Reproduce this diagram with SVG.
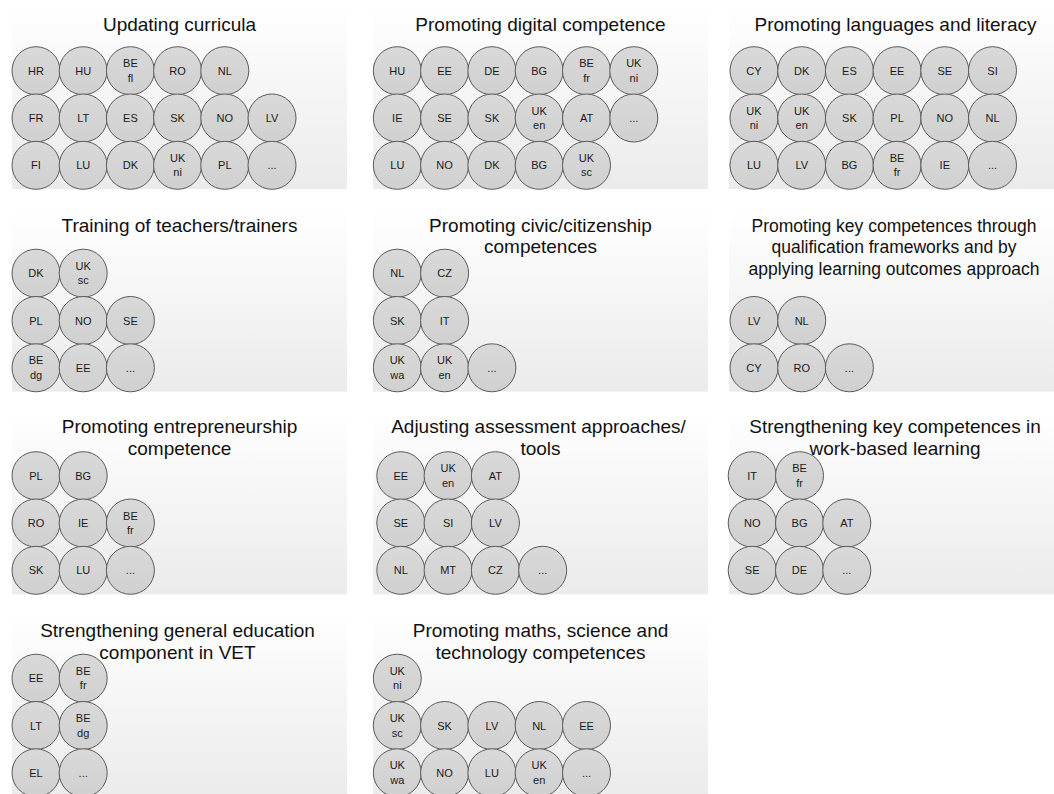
<svg xmlns="http://www.w3.org/2000/svg" width="1054" height="794" viewBox="0 0 1054 794">
<defs>
<linearGradient id="bg" x1="0" y1="0" x2="0" y2="1">
<stop offset="0" stop-color="#ffffff"/>
<stop offset="1" stop-color="#ebebeb"/>
</linearGradient>
<linearGradient id="cf" x1="0" y1="0" x2="0" y2="1">
<stop offset="0" stop-color="#d9d9d9"/>
<stop offset="1" stop-color="#d0d0d0"/>
</linearGradient>
</defs>
<style>
.panel{fill:url(#bg);}
.title{font-family:"Liberation Sans",Arial,sans-serif;font-size:19px;fill:#111;text-anchor:middle;}
.node circle{fill:url(#cf);stroke:#5a5a5a;stroke-width:1;}
.node text{font-family:"Liberation Sans",Arial,sans-serif;font-size:11px;fill:#1a1a1a;text-anchor:middle;}
</style>
<rect width="1054" height="794" fill="#ffffff"/>
<g id="panels">
<rect class="panel" x="12" y="5" width="335" height="184"/>
<rect class="panel" x="373" y="5" width="335" height="184"/>
<rect class="panel" x="729" y="5" width="335" height="184"/>
<rect class="panel" x="12" y="207.5" width="335" height="184.2"/>
<rect class="panel" x="373" y="207.5" width="335" height="184.2"/>
<rect class="panel" x="729" y="207.5" width="335" height="184.2"/>
<rect class="panel" x="12" y="410" width="335" height="184.3"/>
<rect class="panel" x="373" y="410" width="335" height="184.3"/>
<rect class="panel" x="729" y="410" width="335" height="184.3"/>
<rect class="panel" x="12" y="612.5" width="335" height="184.3"/>
<rect class="panel" x="373" y="612.5" width="335" height="184.3"/>
</g>
<g id="titles">
<text class="title" x="179.5" y="31">Updating curricula</text>
<text class="title" x="540.5" y="31">Promoting digital competence</text>
<text class="title" x="895.5" y="31">Promoting languages and literacy</text>
<text class="title" x="179.5" y="232">Training of teachers/trainers</text>
<text class="title" x="540.5" y="231.7">Promoting civic/citizenship</text>
<text class="title" x="540.5" y="253.3">competences</text>
<text class="title" x="894" y="231.5" style="font-size:17.5px">Promoting key competences through</text>
<text class="title" x="894" y="253.2" style="font-size:17.5px">qualification frameworks and by</text>
<text class="title" x="894" y="275" style="font-size:17.5px">applying learning outcomes approach</text>
<text class="title" x="179.5" y="433.3">Promoting entrepreneurship</text>
<text class="title" x="179.5" y="455">competence</text>
<text class="title" x="538.5" y="433.3">Adjusting assessment approaches/</text>
<text class="title" x="540.5" y="455">tools</text>
<text class="title" x="895" y="433.3">Strengthening key competences in</text>
<text class="title" x="895" y="455">work-based learning</text>
<text class="title" x="177.5" y="637">Strengthening general education</text>
<text class="title" x="177.5" y="659">component in VET</text>
<text class="title" x="540.5" y="637">Promoting maths, science and</text>
<text class="title" x="540.5" y="659">technology competences</text>
</g>
<!-- Panel 1 -->
<g id="p1-hr" class="node" transform="translate(36,70.7)"><circle r="24"/><text y="4">HR</text></g>
<g id="p1-hu" class="node" transform="translate(83.2,70.7)"><circle r="24"/><text y="4">HU</text></g>
<g id="p1-befl" class="node" transform="translate(130.4,70.7)"><circle r="24"/><text><tspan x="0" y="-3.5">BE</tspan><tspan x="0" y="11">fl</tspan></text></g>
<g id="p1-ro" class="node" transform="translate(177.6,70.7)"><circle r="24"/><text y="4">RO</text></g>
<g id="p1-nl" class="node" transform="translate(224.8,70.7)"><circle r="24"/><text y="4">NL</text></g>
<g id="p1-fr" class="node" transform="translate(36,118)"><circle r="24"/><text y="4">FR</text></g>
<g id="p1-lt" class="node" transform="translate(83.2,118)"><circle r="24"/><text y="4">LT</text></g>
<g id="p1-es" class="node" transform="translate(130.4,118)"><circle r="24"/><text y="4">ES</text></g>
<g id="p1-sk" class="node" transform="translate(177.6,118)"><circle r="24"/><text y="4">SK</text></g>
<g id="p1-no" class="node" transform="translate(224.8,118)"><circle r="24"/><text y="4">NO</text></g>
<g id="p1-lv" class="node" transform="translate(272,118)"><circle r="24"/><text y="4">LV</text></g>
<g id="p1-fi" class="node" transform="translate(36,165.3)"><circle r="24"/><text y="4">FI</text></g>
<g id="p1-lu" class="node" transform="translate(83.2,165.3)"><circle r="24"/><text y="4">LU</text></g>
<g id="p1-dk" class="node" transform="translate(130.4,165.3)"><circle r="24"/><text y="4">DK</text></g>
<g id="p1-ukni" class="node" transform="translate(177.6,165.3)"><circle r="24"/><text><tspan x="0" y="-3.5">UK</tspan><tspan x="0" y="11">ni</tspan></text></g>
<g id="p1-pl" class="node" transform="translate(224.8,165.3)"><circle r="24"/><text y="4">PL</text></g>
<g id="p1-more" class="node" transform="translate(272,165.3)"><circle r="24"/><text y="4">...</text></g>
<!-- Panel 2 -->
<g id="p2-hu" class="node" transform="translate(397.3,70.7)"><circle r="24"/><text y="4">HU</text></g>
<g id="p2-ee" class="node" transform="translate(444.6,70.7)"><circle r="24"/><text y="4">EE</text></g>
<g id="p2-de" class="node" transform="translate(491.9,70.7)"><circle r="24"/><text y="4">DE</text></g>
<g id="p2-bg" class="node" transform="translate(539.2,70.7)"><circle r="24"/><text y="4">BG</text></g>
<g id="p2-befr" class="node" transform="translate(586.5,70.7)"><circle r="24"/><text><tspan x="0" y="-3.5">BE</tspan><tspan x="0" y="11">fr</tspan></text></g>
<g id="p2-ukni" class="node" transform="translate(633.8,70.7)"><circle r="24"/><text><tspan x="0" y="-3.5">UK</tspan><tspan x="0" y="11">ni</tspan></text></g>
<g id="p2-ie" class="node" transform="translate(397.3,118)"><circle r="24"/><text y="4">IE</text></g>
<g id="p2-se" class="node" transform="translate(444.6,118)"><circle r="24"/><text y="4">SE</text></g>
<g id="p2-sk" class="node" transform="translate(491.9,118)"><circle r="24"/><text y="4">SK</text></g>
<g id="p2-uken" class="node" transform="translate(539.2,118)"><circle r="24"/><text><tspan x="0" y="-3.5">UK</tspan><tspan x="0" y="11">en</tspan></text></g>
<g id="p2-at" class="node" transform="translate(586.5,118)"><circle r="24"/><text y="4">AT</text></g>
<g id="p2-more" class="node" transform="translate(633.8,118)"><circle r="24"/><text y="4">...</text></g>
<g id="p2-lu" class="node" transform="translate(397.3,165.3)"><circle r="24"/><text y="4">LU</text></g>
<g id="p2-no" class="node" transform="translate(444.6,165.3)"><circle r="24"/><text y="4">NO</text></g>
<g id="p2-dk" class="node" transform="translate(491.9,165.3)"><circle r="24"/><text y="4">DK</text></g>
<g id="p2-bg2" class="node" transform="translate(539.2,165.3)"><circle r="24"/><text y="4">BG</text></g>
<g id="p2-uksc" class="node" transform="translate(586.5,165.3)"><circle r="24"/><text><tspan x="0" y="-3.5">UK</tspan><tspan x="0" y="11">sc</tspan></text></g>
<!-- Panel 3 -->
<g id="p3-cy" class="node" transform="translate(754,70.7)"><circle r="24"/><text y="4">CY</text></g>
<g id="p3-dk" class="node" transform="translate(801.7,70.7)"><circle r="24"/><text y="4">DK</text></g>
<g id="p3-es" class="node" transform="translate(849.4,70.7)"><circle r="24"/><text y="4">ES</text></g>
<g id="p3-ee" class="node" transform="translate(897.1,70.7)"><circle r="24"/><text y="4">EE</text></g>
<g id="p3-se" class="node" transform="translate(944.8,70.7)"><circle r="24"/><text y="4">SE</text></g>
<g id="p3-si" class="node" transform="translate(992.5,70.7)"><circle r="24"/><text y="4">SI</text></g>
<g id="p3-ukni" class="node" transform="translate(754,118)"><circle r="24"/><text><tspan x="0" y="-3.5">UK</tspan><tspan x="0" y="11">ni</tspan></text></g>
<g id="p3-uken" class="node" transform="translate(801.7,118)"><circle r="24"/><text><tspan x="0" y="-3.5">UK</tspan><tspan x="0" y="11">en</tspan></text></g>
<g id="p3-sk" class="node" transform="translate(849.4,118)"><circle r="24"/><text y="4">SK</text></g>
<g id="p3-pl" class="node" transform="translate(897.1,118)"><circle r="24"/><text y="4">PL</text></g>
<g id="p3-no" class="node" transform="translate(944.8,118)"><circle r="24"/><text y="4">NO</text></g>
<g id="p3-nl" class="node" transform="translate(992.5,118)"><circle r="24"/><text y="4">NL</text></g>
<g id="p3-lu" class="node" transform="translate(754,165.3)"><circle r="24"/><text y="4">LU</text></g>
<g id="p3-lv" class="node" transform="translate(801.7,165.3)"><circle r="24"/><text y="4">LV</text></g>
<g id="p3-bg" class="node" transform="translate(849.4,165.3)"><circle r="24"/><text y="4">BG</text></g>
<g id="p3-befr" class="node" transform="translate(897.1,165.3)"><circle r="24"/><text><tspan x="0" y="-3.5">BE</tspan><tspan x="0" y="11">fr</tspan></text></g>
<g id="p3-ie" class="node" transform="translate(944.8,165.3)"><circle r="24"/><text y="4">IE</text></g>
<g id="p3-more" class="node" transform="translate(992.5,165.3)"><circle r="24"/><text y="4">...</text></g>
<!-- Panel 4 -->
<g id="p4-dk" class="node" transform="translate(36,273.2)"><circle r="24"/><text y="4">DK</text></g>
<g id="p4-uksc" class="node" transform="translate(83.2,273.2)"><circle r="24"/><text><tspan x="0" y="-3.5">UK</tspan><tspan x="0" y="11">sc</tspan></text></g>
<g id="p4-pl" class="node" transform="translate(36,320.5)"><circle r="24"/><text y="4">PL</text></g>
<g id="p4-no" class="node" transform="translate(83.2,320.5)"><circle r="24"/><text y="4">NO</text></g>
<g id="p4-se" class="node" transform="translate(130.4,320.5)"><circle r="24"/><text y="4">SE</text></g>
<g id="p4-bedg" class="node" transform="translate(36,367.8)"><circle r="24"/><text><tspan x="0" y="-3.5">BE</tspan><tspan x="0" y="11">dg</tspan></text></g>
<g id="p4-ee" class="node" transform="translate(83.2,367.8)"><circle r="24"/><text y="4">EE</text></g>
<g id="p4-more" class="node" transform="translate(130.4,367.8)"><circle r="24"/><text y="4">...</text></g>
<!-- Panel 5 -->
<g id="p5-nl" class="node" transform="translate(397.3,273.2)"><circle r="24"/><text y="4">NL</text></g>
<g id="p5-cz" class="node" transform="translate(444.6,273.2)"><circle r="24"/><text y="4">CZ</text></g>
<g id="p5-sk" class="node" transform="translate(397.3,320.5)"><circle r="24"/><text y="4">SK</text></g>
<g id="p5-it" class="node" transform="translate(444.6,320.5)"><circle r="24"/><text y="4">IT</text></g>
<g id="p5-ukwa" class="node" transform="translate(397.3,367.8)"><circle r="24"/><text><tspan x="0" y="-3.5">UK</tspan><tspan x="0" y="11">wa</tspan></text></g>
<g id="p5-uken" class="node" transform="translate(444.6,367.8)"><circle r="24"/><text><tspan x="0" y="-3.5">UK</tspan><tspan x="0" y="11">en</tspan></text></g>
<g id="p5-more" class="node" transform="translate(491.9,367.8)"><circle r="24"/><text y="4">...</text></g>
<!-- Panel 6 -->
<g id="p6-lv" class="node" transform="translate(754,320.5)"><circle r="24"/><text y="4">LV</text></g>
<g id="p6-nl" class="node" transform="translate(801.7,320.5)"><circle r="24"/><text y="4">NL</text></g>
<g id="p6-cy" class="node" transform="translate(754,367.8)"><circle r="24"/><text y="4">CY</text></g>
<g id="p6-ro" class="node" transform="translate(801.7,367.8)"><circle r="24"/><text y="4">RO</text></g>
<g id="p6-more" class="node" transform="translate(849.4,367.8)"><circle r="24"/><text y="4">...</text></g>
<!-- Panel 7 -->
<g id="p7-pl" class="node" transform="translate(36,475.7)"><circle r="24"/><text y="4">PL</text></g>
<g id="p7-bg" class="node" transform="translate(83.2,475.7)"><circle r="24"/><text y="4">BG</text></g>
<g id="p7-ro" class="node" transform="translate(36,523)"><circle r="24"/><text y="4">RO</text></g>
<g id="p7-ie" class="node" transform="translate(83.2,523)"><circle r="24"/><text y="4">IE</text></g>
<g id="p7-befr" class="node" transform="translate(130.4,523)"><circle r="24"/><text><tspan x="0" y="-3.5">BE</tspan><tspan x="0" y="11">fr</tspan></text></g>
<g id="p7-sk" class="node" transform="translate(36,570.3)"><circle r="24"/><text y="4">SK</text></g>
<g id="p7-lu" class="node" transform="translate(83.2,570.3)"><circle r="24"/><text y="4">LU</text></g>
<g id="p7-more" class="node" transform="translate(130.4,570.3)"><circle r="24"/><text y="4">...</text></g>
<!-- Panel 8 -->
<g id="p8-ee" class="node" transform="translate(400.8,475.7)"><circle r="24"/><text y="4">EE</text></g>
<g id="p8-uken" class="node" transform="translate(448.1,475.7)"><circle r="24"/><text><tspan x="0" y="-3.5">UK</tspan><tspan x="0" y="11">en</tspan></text></g>
<g id="p8-at" class="node" transform="translate(495.4,475.7)"><circle r="24"/><text y="4">AT</text></g>
<g id="p8-se" class="node" transform="translate(400.8,523)"><circle r="24"/><text y="4">SE</text></g>
<g id="p8-si" class="node" transform="translate(448.1,523)"><circle r="24"/><text y="4">SI</text></g>
<g id="p8-lv" class="node" transform="translate(495.4,523)"><circle r="24"/><text y="4">LV</text></g>
<g id="p8-nl" class="node" transform="translate(400.8,570.3)"><circle r="24"/><text y="4">NL</text></g>
<g id="p8-mt" class="node" transform="translate(448.1,570.3)"><circle r="24"/><text y="4">MT</text></g>
<g id="p8-cz" class="node" transform="translate(495.4,570.3)"><circle r="24"/><text y="4">CZ</text></g>
<g id="p8-more" class="node" transform="translate(542.7,570.3)"><circle r="24"/><text y="4">...</text></g>
<!-- Panel 9 -->
<g id="p9-it" class="node" transform="translate(752.2,475.7)"><circle r="24"/><text y="4">IT</text></g>
<g id="p9-befr" class="node" transform="translate(799.5,475.7)"><circle r="24"/><text><tspan x="0" y="-3.5">BE</tspan><tspan x="0" y="11">fr</tspan></text></g>
<g id="p9-no" class="node" transform="translate(752.2,523)"><circle r="24"/><text y="4">NO</text></g>
<g id="p9-bg" class="node" transform="translate(799.5,523)"><circle r="24"/><text y="4">BG</text></g>
<g id="p9-at" class="node" transform="translate(846.8,523)"><circle r="24"/><text y="4">AT</text></g>
<g id="p9-se" class="node" transform="translate(752.2,570.3)"><circle r="24"/><text y="4">SE</text></g>
<g id="p9-de" class="node" transform="translate(799.5,570.3)"><circle r="24"/><text y="4">DE</text></g>
<g id="p9-more" class="node" transform="translate(846.8,570.3)"><circle r="24"/><text y="4">...</text></g>
<!-- Panel 10 -->
<g id="p10-ee" class="node" transform="translate(36,678.2)"><circle r="24"/><text y="4">EE</text></g>
<g id="p10-befr" class="node" transform="translate(83.2,678.2)"><circle r="24"/><text><tspan x="0" y="-3.5">BE</tspan><tspan x="0" y="11">fr</tspan></text></g>
<g id="p10-lt" class="node" transform="translate(36,725.5)"><circle r="24"/><text y="4">LT</text></g>
<g id="p10-bedg" class="node" transform="translate(83.2,725.5)"><circle r="24"/><text><tspan x="0" y="-3.5">BE</tspan><tspan x="0" y="11">dg</tspan></text></g>
<g id="p10-el" class="node" transform="translate(36,772.8)"><circle r="24"/><text y="4">EL</text></g>
<g id="p10-more" class="node" transform="translate(83.2,772.8)"><circle r="24"/><text y="4">...</text></g>
<!-- Panel 11 -->
<g id="p11-ukni" class="node" transform="translate(397.3,678.2)"><circle r="24"/><text><tspan x="0" y="-3.5">UK</tspan><tspan x="0" y="11">ni</tspan></text></g>
<g id="p11-uksc" class="node" transform="translate(397.3,725.5)"><circle r="24"/><text><tspan x="0" y="-3.5">UK</tspan><tspan x="0" y="11">sc</tspan></text></g>
<g id="p11-sk" class="node" transform="translate(444.6,725.5)"><circle r="24"/><text y="4">SK</text></g>
<g id="p11-lv" class="node" transform="translate(491.9,725.5)"><circle r="24"/><text y="4">LV</text></g>
<g id="p11-nl" class="node" transform="translate(539.2,725.5)"><circle r="24"/><text y="4">NL</text></g>
<g id="p11-ee" class="node" transform="translate(586.5,725.5)"><circle r="24"/><text y="4">EE</text></g>
<g id="p11-ukwa" class="node" transform="translate(397.3,772.8)"><circle r="24"/><text><tspan x="0" y="-3.5">UK</tspan><tspan x="0" y="11">wa</tspan></text></g>
<g id="p11-no" class="node" transform="translate(444.6,772.8)"><circle r="24"/><text y="4">NO</text></g>
<g id="p11-lu" class="node" transform="translate(491.9,772.8)"><circle r="24"/><text y="4">LU</text></g>
<g id="p11-uken" class="node" transform="translate(539.2,772.8)"><circle r="24"/><text><tspan x="0" y="-3.5">UK</tspan><tspan x="0" y="11">en</tspan></text></g>
<g id="p11-more" class="node" transform="translate(586.5,772.8)"><circle r="24"/><text y="4">...</text></g>
</svg>
